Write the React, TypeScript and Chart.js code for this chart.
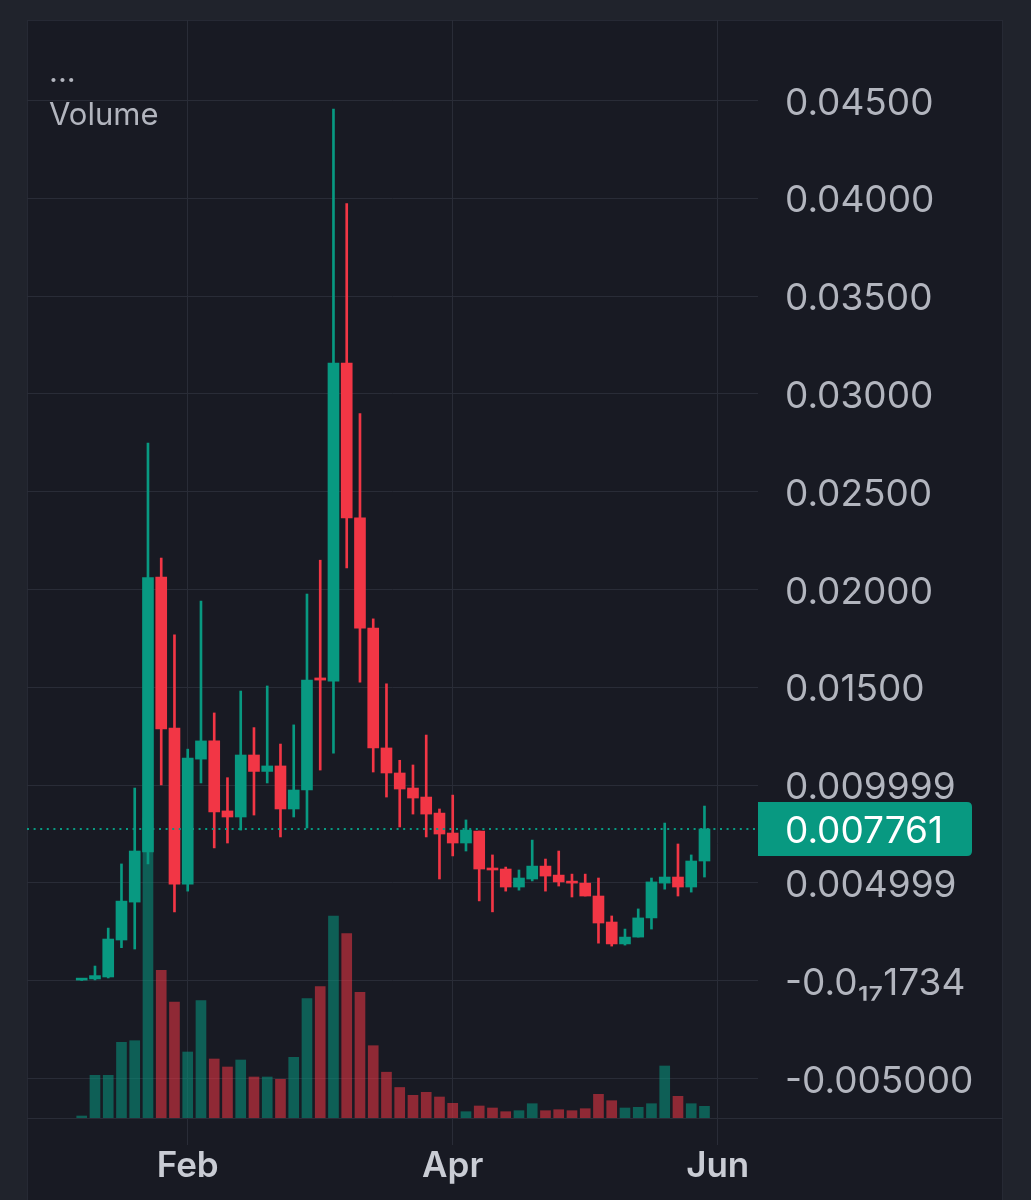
import React, { useEffect, useRef } from "react";
import { Chart, registerables } from "chart.js";

Chart.register(...registerables);

// ---- Data (3-day candles, index 0..47) ----
const opens = [
  0.00003, 0.00009, 0.00019, 0.00208, 0.00402, 0.00658, 0.02064, 0.01292, 0.00494, 0.01133,
  0.01226, 0.00868, 0.00837, 0.01154, 0.0107, 0.01098, 0.00878, 0.00975, 0.01548, 0.01532,
  0.03158, 0.02366, 0.01803, 0.0119, 0.01062, 0.00985, 0.00939, 0.00857, 0.00755, 0.00704,
  0.00765, 0.00576, 0.00571, 0.00479, 0.0052, 0.00586, 0.0054, 0.00507, 0.00499, 0.00433,
  0.003, 0.00188, 0.00223, 0.00321, 0.00499, 0.0053, 0.00479, 0.00612,
];
const closes = [
  0.00008, 0.00026, 0.00213, 0.00407, 0.00663, 0.02061, 0.01287, 0.00494, 0.01138, 0.01226,
  0.00863, 0.00837, 0.01154, 0.0107, 0.01098, 0.00878, 0.00975, 0.01537, 0.01537, 0.03158,
  0.02366, 0.01803, 0.0119, 0.01062, 0.0098, 0.00934, 0.00852, 0.0075, 0.00704, 0.0077,
  0.00571, 0.00566, 0.00479, 0.00525, 0.00586, 0.00535, 0.00505, 0.00499, 0.00433, 0.00295,
  0.00188, 0.00223, 0.00321, 0.00505, 0.0053, 0.00479, 0.00612, 0.007761,
];
const highs = [
  0.00012, 0.00075, 0.00269, 0.00597, 0.00985, 0.02749, 0.02161, 0.01768, 0.01184, 0.01941,
  0.01369, 0.01038, 0.01481, 0.01294, 0.01507, 0.0121, 0.01308, 0.01977, 0.0215, 0.04456,
  0.03973, 0.029, 0.0185, 0.01518, 0.01127, 0.01103, 0.01256, 0.00878, 0.00949, 0.00822,
  0.00765, 0.00643, 0.00581, 0.00566, 0.00719, 0.00622, 0.00663, 0.00545, 0.00545, 0.00525,
  0.00331, 0.00264, 0.00367, 0.00525, 0.00806, 0.00699, 0.00643, 0.00893,
];
const lows = [
  0.00001, 0.00004, 0.00014, 0.00169, 0.00162, 0.00597, 0.01001, 0.00352, 0.00458, 0.01011,
  0.00679, 0.00704, 0.0077, 0.00847, 0.01011, 0.00735, 0.00837, 0.00781, 0.01077, 0.01163,
  0.0211, 0.01527, 0.01067, 0.00939, 0.00786, 0.00852, 0.00735, 0.0052, 0.00638, 0.00663,
  0.00408, 0.00352, 0.00458, 0.00463, 0.0051, 0.00458, 0.00484, 0.00428, 0.00433, 0.00192,
  0.00177, 0.00182, 0.00223, 0.00264, 0.00468, 0.00433, 0.00453, 0.0053,
];
const volumes = [
  20, 427, 427, 757, 773, 3000, 1477, 1160, 660, 1173,
  590, 510, 580, 410, 410, 387, 607, 1193, 1313, 2020,
  1843, 1257, 723, 458, 305, 227, 257, 210, 147, 63,
  120, 100, 63, 73, 143, 73, 83, 73, 93, 237,
  173, 100, 107, 143, 520, 217, 143, 117,
];

const monthTicks = [8, 28, 48];
const monthLabels = ["Feb", "Apr", "Jun"];

const priceTicks = [0.045, 0.04, 0.035, 0.03, 0.025, 0.02, 0.015, 0.009999, 0.004999, -1.734e-18, -0.005];
const priceTickLabels = [
  "0.04500", "0.04000", "0.03500", "0.03000", "0.02500", "0.02000", "0.01500",
  "0.009999", "0.004999", "-0.0\u2081\u20871734", "-0.005000",
];

const lastPrice = 0.007761;
const lastPriceLabel = "0.007761";
const paneLabels = ["...", "Volume"];

// ---- Styles ----
const UP = "#089981";
const DOWN = "#f23645";
const UP_VOL = "rgba(8,153,129,0.55)";
const DOWN_VOL = "rgba(242,54,69,0.55)";
const OUTER_BG = "#20232c";
const PANEL_BG = "#181a23";
const GRID = "#292c37";
const TEXT = "#b2b5be";
const FONT = "Inter, 'Noto Sans', sans-serif";

export default function App() {
  const ref = useRef<HTMLCanvasElement | null>(null);

  useEffect(() => {
    document.body.style.margin = "0";
    document.body.style.background = OUTER_BG;
    const canvas = ref.current;
    if (!canvas) return;

    const idx = opens.map((_, i) => i);
    const isUp = idx.map((i) => closes[i] >= opens[i]);

    const bgPlugin = {
      id: "bgPlugin",
      beforeDraw(chart: any) {
        const ctx = chart.ctx;
        ctx.save();
        ctx.fillStyle = OUTER_BG;
        ctx.fillRect(0, 0, chart.width, chart.height);
        ctx.fillStyle = PANEL_BG;
        ctx.fillRect(27, 20, 976, chart.height - 20);
        ctx.strokeStyle = "#262934";
        ctx.lineWidth = 1;
        ctx.strokeRect(27.5, 20.5, 975, chart.height);
        ctx.restore();
      },
      afterDatasetsDraw(chart: any) {
        const ctx = chart.ctx;
        const area = chart.chartArea;
        const y = chart.scales.y.getPixelForValue(lastPrice);
        ctx.save();
        // price line (dotted)
        ctx.strokeStyle = UP;
        ctx.lineWidth = 2;
        ctx.setLineDash([2, 4.6]);
        ctx.beginPath();
        ctx.moveTo(area.left, Math.round(y));
        ctx.lineTo(area.right, Math.round(y));
        ctx.stroke();
        ctx.setLineDash([]);
        // separator between plot and time axis
        ctx.strokeStyle = GRID;
        ctx.lineWidth = 1;
        ctx.beginPath();
        ctx.moveTo(27, area.bottom + 0.5);
        ctx.lineTo(1003, area.bottom + 0.5);
        ctx.stroke();
        // last price label
        const h = 54;
        const x0 = area.right;
        const w = 214;
        const r = 5;
        const top = y - h / 2;
        ctx.fillStyle = UP;
        ctx.beginPath();
        ctx.moveTo(x0, top);
        ctx.lineTo(x0 + w - r, top);
        ctx.quadraticCurveTo(x0 + w, top, x0 + w, top + r);
        ctx.lineTo(x0 + w, top + h - r);
        ctx.quadraticCurveTo(x0 + w, top + h, x0 + w - r, top + h);
        ctx.lineTo(x0, top + h);
        ctx.closePath();
        ctx.fill();
        ctx.fillStyle = "#ffffff";
        ctx.font = `37px ${FONT}`;
        ctx.textAlign = "left";
        ctx.textBaseline = "middle";
        ctx.fillText(lastPriceLabel, 785, y + 3);
        // pane labels
        ctx.fillStyle = TEXT;
        ctx.font = `31px ${FONT}`;
        ctx.textBaseline = "alphabetic";
        ctx.fillText(paneLabels[0], 49, 82);
        ctx.fillText(paneLabels[1], 49, 125);
        ctx.restore();
      },
    };

    const chart = new Chart(canvas, {
      type: "bar",
      data: {
        datasets: [
          {
            label: "Volume",
            data: idx.map((i) => ({ x: i, y: volumes[i] })) as any,
            yAxisID: "yVol",
            backgroundColor: idx.map((i) => (isUp[i] ? UP_VOL : DOWN_VOL)),
            barThickness: 10,
            grouped: false,
            order: 3,
          } as any,
          {
            label: "Wicks",
            data: idx.map((i) => ({ x: i, y: [lows[i], highs[i]] })) as any,
            yAxisID: "y",
            backgroundColor: idx.map((i) => (isUp[i] ? UP : DOWN)),
            barThickness: 2,
            grouped: false,
            order: 2,
          } as any,
          {
            label: "Bodies",
            data: idx.map((i) => ({ x: i, y: [opens[i], closes[i]] })) as any,
            yAxisID: "y",
            backgroundColor: idx.map((i) => (isUp[i] ? UP : DOWN)),
            barThickness: 11,
            minBarLength: 2,
            grouped: false,
            order: 1,
          } as any,
        ],
      },
      options: {
        responsive: false,
        animation: false,
        devicePixelRatio: 1,
        layout: { padding: { left: 27, top: 20, right: 28, bottom: 0 } },
        plugins: { legend: { display: false }, tooltip: { enabled: false } },
        scales: {
          x: {
            type: "linear",
            min: -4.13,
            max: 51.04,
            offset: false,
            grid: { color: GRID, lineWidth: 1, drawTicks: true, tickLength: 27, tickColor: GRID, offset: false },
            border: { display: false },
            afterBuildTicks: (scale: any) => {
              scale.ticks = monthTicks.map((v) => ({ value: v }));
            },
            afterFit: (scale: any) => {
              scale.height = 82;
              scale.paddingLeft = 0;
              scale.paddingRight = 0;
            },
            ticks: {
              padding: 0,
              maxRotation: 0,
              autoSkip: false,
              color: "#c9ccd4",
              font: { family: FONT, size: 35, weight: "600" },
              callback: (_v: any, i: number) => monthLabels[i],
            },
          } as any,
          y: {
            type: "linear",
            position: "right",
            min: -0.00702,
            max: 0.04912,
            grid: { color: GRID, lineWidth: 1, drawTicks: false },
            border: { display: false },
            afterBuildTicks: (scale: any) => {
              scale.ticks = priceTicks.map((v) => ({ value: v }));
            },
            afterFit: (scale: any) => {
              scale.width = 245;
              scale.paddingTop = 0;
              scale.paddingBottom = 0;
            },
            ticks: {
              padding: 27,
              labelOffset: 3,
              color: TEXT,
              font: { family: FONT, size: 37 },
              callback: (_v: any, i: number) => priceTickLabels[i],
            },
          } as any,
          yVol: {
            type: "linear",
            display: false,
            min: 0,
            max: 10980,
          },
        },
      },
      plugins: [bgPlugin],
    });

    return () => chart.destroy();
  }, []);

  return (
    <canvas
      ref={ref}
      width={1031}
      height={1200}
      style={{ display: "block", width: 1031, height: 1200 }}
    />
  );
}
